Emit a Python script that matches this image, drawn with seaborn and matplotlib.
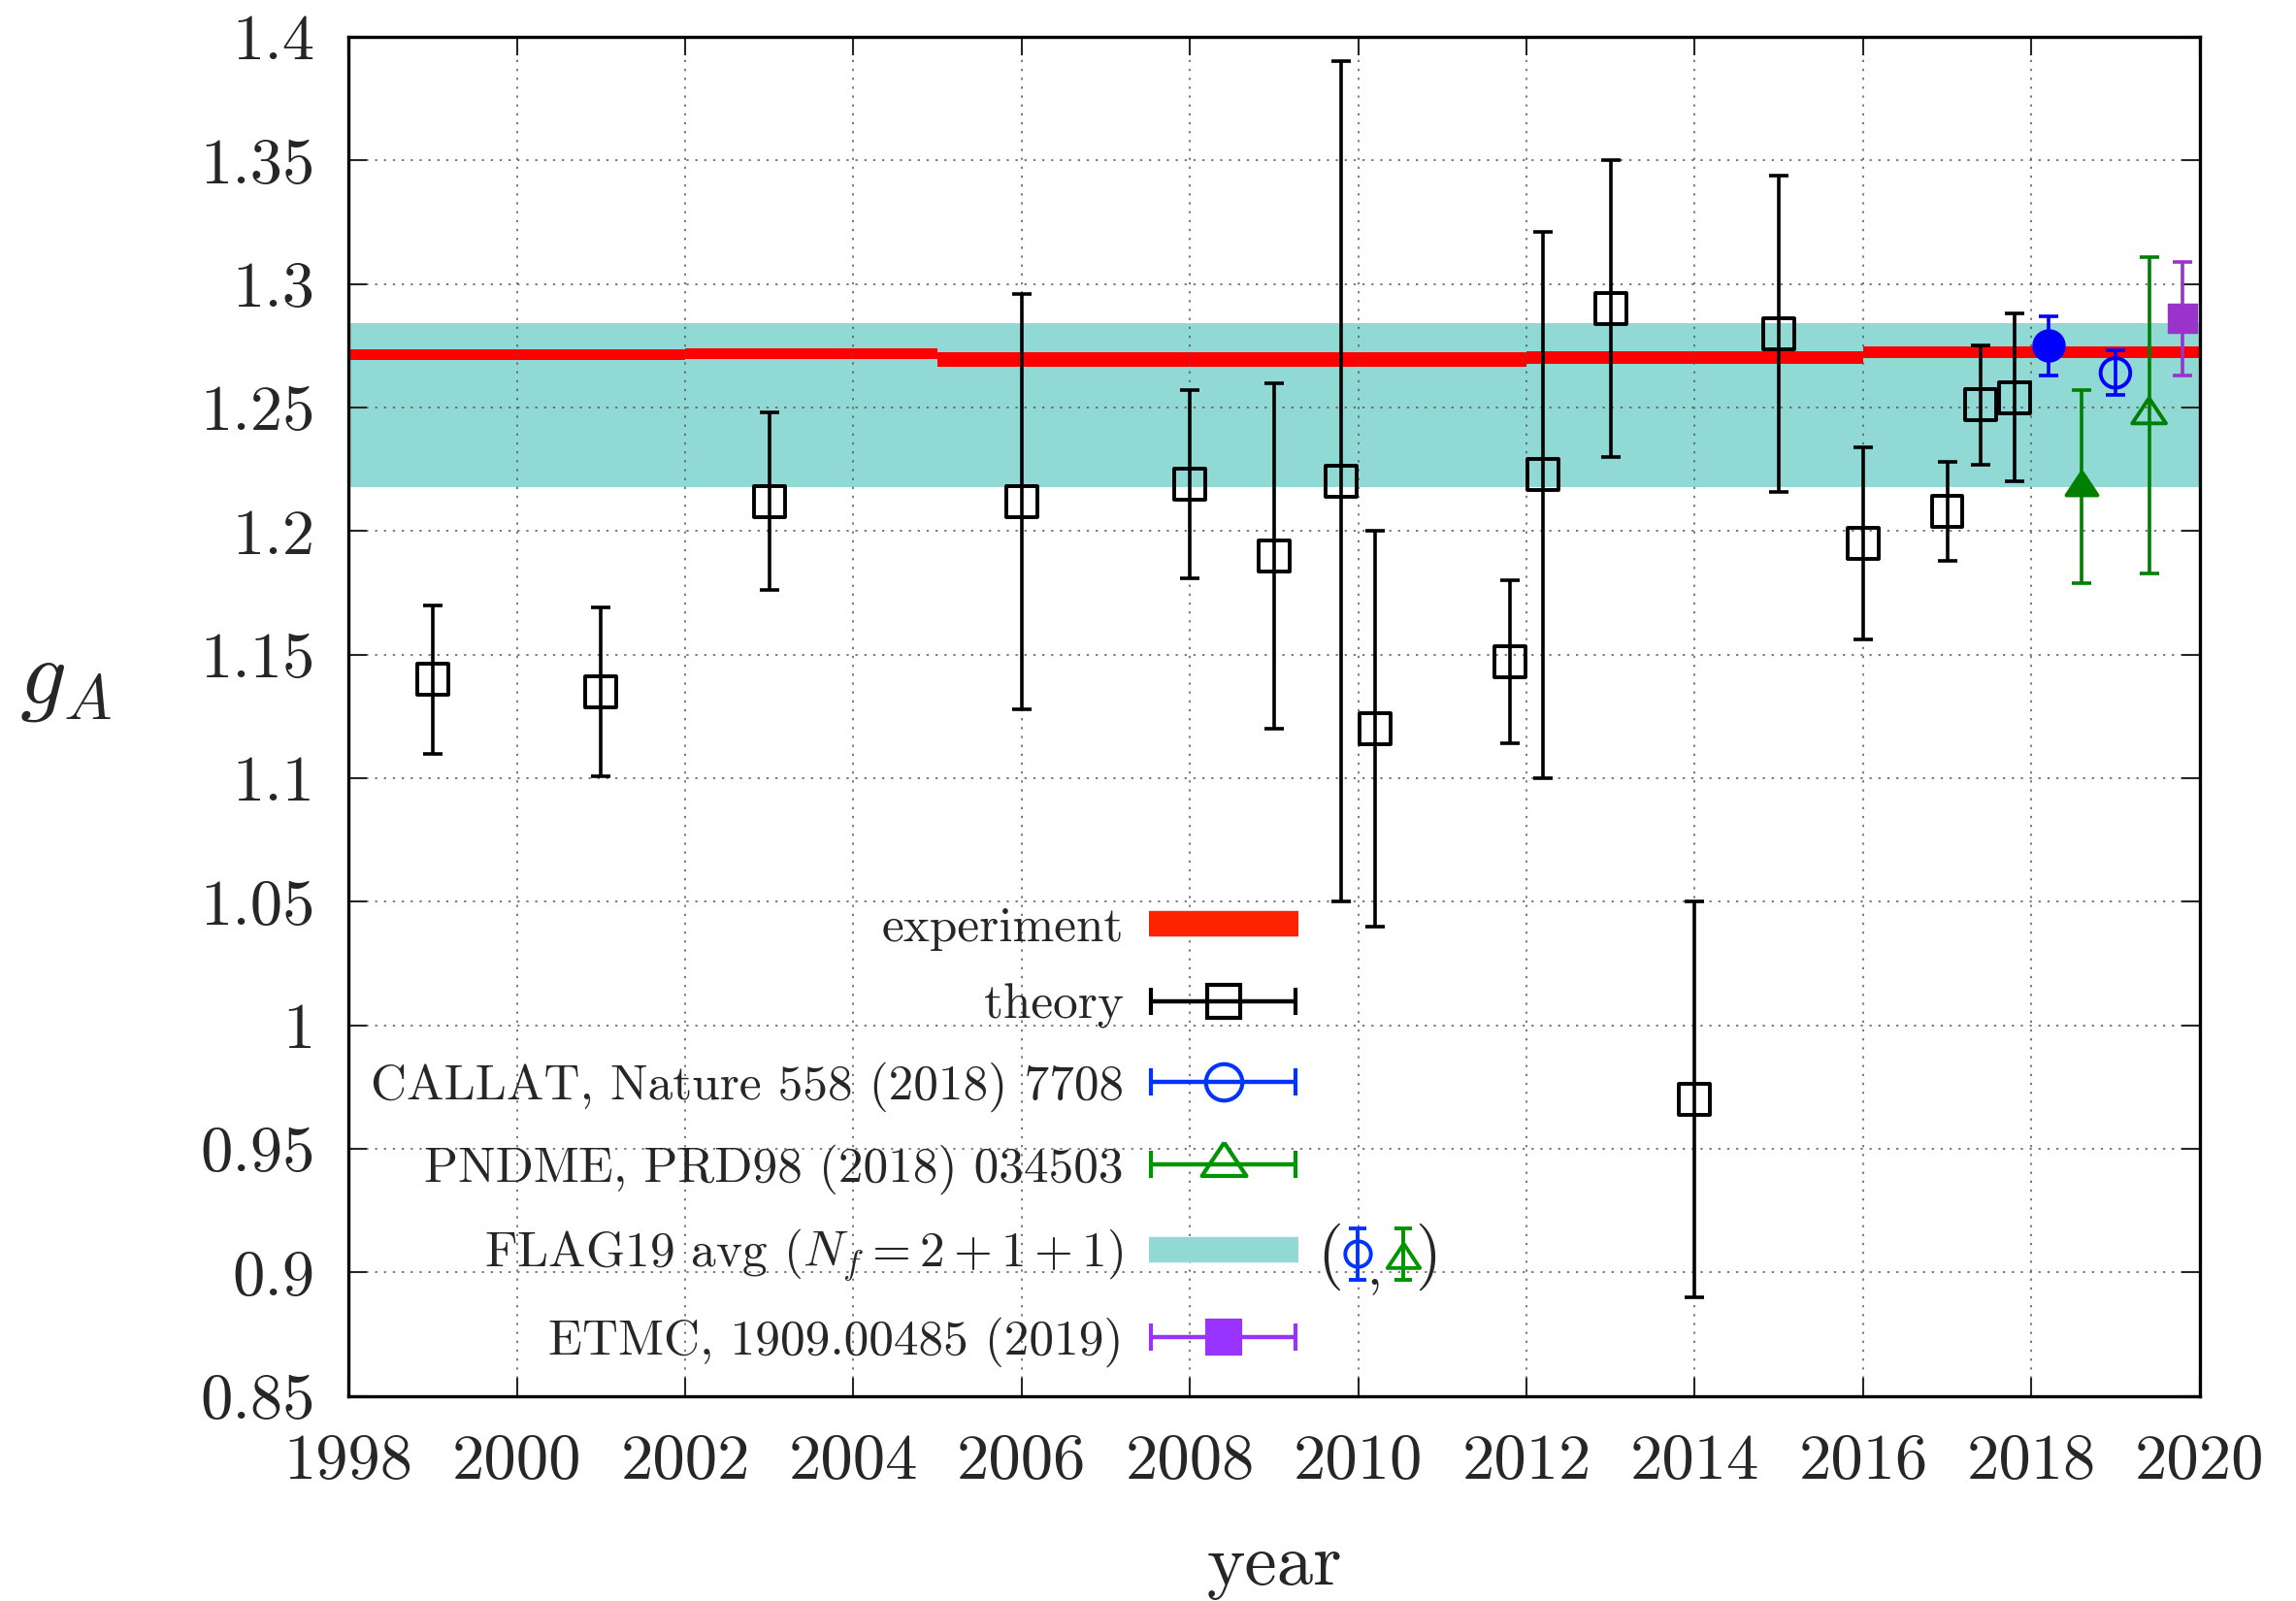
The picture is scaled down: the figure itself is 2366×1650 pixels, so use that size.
import numpy as np
import pandas as pd
import matplotlib
matplotlib.use("Agg")
import matplotlib.pyplot as plt
import seaborn as sns
from matplotlib.lines import Line2D
from matplotlib.container import ErrorbarContainer
from matplotlib.legend_handler import HandlerErrorbar

# ---------------- data ----------------
theory_year = [1999.0, 2001.0, 2003.0, 2006.0, 2008.0, 2009.0, 2009.8, 2010.2,
               2011.8, 2012.2, 2013.0, 2014.0, 2015.0, 2016.0, 2017.0, 2017.4, 2017.8]
theory_val = [1.140, 1.135, 1.212, 1.212, 1.219, 1.190, 1.220, 1.120,
              1.147, 1.223, 1.290, 0.970, 1.280, 1.195, 1.208, 1.251, 1.254]
theory_err_lo = [0.030, 0.034, 0.036, 0.084, 0.038, 0.070, 0.170, 0.080,
                 0.033, 0.123, 0.060, 0.080, 0.064, 0.039, 0.020, 0.024, 0.034]
theory_err_hi = [0.030, 0.034, 0.036, 0.084, 0.038, 0.070, 0.170, 0.080,
                 0.033, 0.098, 0.060, 0.080, 0.064, 0.039, 0.020, 0.024, 0.034]

callat_year = [2018.2, 2019.0]
callat_val = [1.275, 1.264]
callat_err = [0.012, 0.009]
callat_filled = [True, False]

pndme_year = [2018.6, 2019.4]
pndme_val = [1.218, 1.247]
pndme_err = [0.039, 0.064]
pndme_filled = [True, False]

etmc_year = [2019.8]
etmc_val = [1.286]
etmc_err = [0.023]

exp_start = [1998, 2002, 2005, 2012, 2016]
exp_end = [2002, 2005, 2012, 2016, 2020]
exp_val = [1.2714, 1.2719, 1.2693, 1.2702, 1.2723]
exp_err = [0.0022, 0.0021, 0.0030, 0.0025, 0.0023]

flag_val = 1.251
flag_err = 0.033

x_ticks = [1998, 2000, 2002, 2004, 2006, 2008, 2010, 2012, 2014, 2016, 2018, 2020]
y_ticks = [0.85, 0.9, 0.95, 1.0, 1.05, 1.1, 1.15, 1.2, 1.25, 1.3, 1.35, 1.4]
y_tick_labels = ["0.85", "0.9", "0.95", "1", "1.05", "1.1", "1.15", "1.2",
                 "1.25", "1.3", "1.35", "1.4"]

legend_labels = ["experiment", "theory", "CALLAT, Nature 558 (2018) 7708",
                 "PNDME, PRD98 (2018) 034503", r"FLAG19 avg ($N_f=2+1+1$)",
                 "ETMC, 1909.00485 (2019)"]

# ---------------- style ----------------
sns.set_theme(style="ticks")
plt.rcParams.update({
    "font.family": ["cmr10", "DejaVu Serif"],
    "mathtext.fontset": "cm",
    "axes.formatter.use_mathtext": True,
    "axes.unicode_minus": False,
})

RED = "#ff0000"
RED_LEG = "#ff2200"
TEAL = "#91d9d4"
BLUE = "#0000ff"
BLUE_LEG = "#0033ff"
GREEN = "#008000"
GREEN_LEG = "#009400"
PURPLE = "#9933cc"
PURPLE_LEG = "#9933ff"

# triangle marker with centroid at origin (wider than tall)
TRI = [(0.0, 1.0), (-1.0, -0.5), (1.0, -0.5), (0.0, 1.0)]

fig = plt.figure(figsize=(23.66, 16.50), dpi=100)
ax = fig.add_axes([0.1518, 0.128, 0.8062, 0.849])

ELW = 2.6
CAP = 7
MS_SQ = 23

# FLAG band
ax.axhspan(flag_val - flag_err, flag_val + flag_err, color=TEAL, lw=0, zorder=0.3)

# experiment steps
for x0, x1, v, e in zip(exp_start, exp_end, exp_val, exp_err):
    ax.fill_between([x0, x1], [v - e, v - e], [v + e, v + e], color=RED, lw=0, zorder=1.0)

# theory
ax.errorbar(theory_year, theory_val, yerr=[theory_err_lo, theory_err_hi], fmt="none",
            ecolor="black", elinewidth=ELW, capsize=CAP, capthick=ELW, zorder=3)
df_th = pd.DataFrame({"year": theory_year, "gA": theory_val})
sns.scatterplot(data=df_th, x="year", y="gA", marker="s", s=MS_SQ ** 2,
                facecolors="none", edgecolor="black", linewidth=2.8, ax=ax,
                legend=False, zorder=4)

# CALLAT
ax.errorbar(callat_year, callat_val, yerr=callat_err, fmt="none", ecolor=BLUE,
            elinewidth=ELW, capsize=CAP, capthick=ELW, zorder=3)
for yr, v, f in zip(callat_year, callat_val, callat_filled):
    sns.scatterplot(x=[yr], y=[v], marker="o", s=22 ** 2,
                    facecolors=BLUE if f else "none", edgecolor=BLUE,
                    linewidth=2.8, ax=ax, legend=False, zorder=4)

# PNDME
ax.errorbar(pndme_year, pndme_val, yerr=pndme_err, fmt="none", ecolor=GREEN,
            elinewidth=ELW, capsize=CAP, capthick=ELW, zorder=3)
for yr, v, f in zip(pndme_year, pndme_val, pndme_filled):
    sns.scatterplot(x=[yr], y=[v], marker=TRI, s=23 ** 2 if f else 25 ** 2,
                    facecolors=GREEN if f else "none", edgecolor=GREEN,
                    linewidth=2.8, ax=ax, legend=False, zorder=4)

# ETMC
ax.errorbar(etmc_year, etmc_val, yerr=etmc_err, fmt="none", ecolor=PURPLE,
            elinewidth=ELW, capsize=CAP, capthick=ELW, zorder=3)
sns.scatterplot(x=etmc_year, y=etmc_val, marker="s", s=22 ** 2,
                facecolors=PURPLE, edgecolor=PURPLE, linewidth=1,
                ax=ax, legend=False, zorder=4)

# ---------------- axes ----------------
ax.set_xlim(1998, 2020)
ax.set_ylim(0.85, 1.4)
ax.set_xticks(x_ticks)
ax.set_xticklabels([str(t) for t in x_ticks])
ax.set_yticks(y_ticks)
ax.set_yticklabels(y_tick_labels)
ax.tick_params(axis="both", direction="in", length=14, width=1.5, labelsize=48,
               top=True, right=True)
ax.tick_params(axis="x", pad=28)
ax.tick_params(axis="y", pad=25)
for sp in ax.spines.values():
    sp.set_linewidth(2.4)
    sp.set_color("black")
ax.set_axisbelow("line")
ax.grid(True, color="#555555", lw=1.1, linestyle=(0, (1.5, 4.5)))

ax.set_xlabel("year", fontsize=54)
ax.xaxis.set_label_coords(0.5, -0.126)
ax.xaxis.label.set_va("center")
ax.set_ylabel(r"$g_A$", fontsize=68, rotation=0)
ax.yaxis.set_label_coords(-0.153, 0.524)
ax.yaxis.label.set_va("center")
ax.yaxis.label.set_ha("center")

# ---------------- legend ----------------
LEG_LW = 3.2


def eb_handle(color, marker, mfc, ms):
    return ax.errorbar([np.nan], [np.nan], xerr=[1.0], fmt="none" if marker is None else "",
                       marker=marker, ms=ms, linestyle="none",
                       mfc=mfc, mec=color, mew=3.0, ecolor=color,
                       elinewidth=LEG_LW, capsize=CAP + 3, capthick=LEG_LW)


h_exp = Line2D([], [], color=RED_LEG, lw=19, solid_capstyle="butt")
h_th = eb_handle("black", "s", "none", 25)
h_cal = eb_handle(BLUE_LEG, "o", "none", 27)
h_pnd = eb_handle(GREEN_LEG, TRI, "none", 33)
h_flag = Line2D([], [], color=TEAL, lw=19, solid_capstyle="butt")
h_etmc = eb_handle(PURPLE_LEG, "s", PURPLE_LEG, 25)

leg = ax.legend([h_exp, h_th, h_cal, h_pnd, h_flag, h_etmc], legend_labels,
                loc="lower right", bbox_to_anchor=(0.5265, 0.003), frameon=False,
                markerfirst=False, fontsize=37, handlelength=3.0,
                handletextpad=0.5, labelspacing=0.66, borderpad=0,
                handler_map={ErrorbarContainer: HandlerErrorbar(xerr_size=1.45)})

# "(Phi, Delta)" note next to FLAG entry
tr = ax.transAxes
yc = 0.1045
dy = 0.019
ax.text(0.5305, yc - 0.002, "(", transform=tr, fontsize=50, ha="center", va="center")
ax.text(0.5540, yc - 0.012, ",", transform=tr, fontsize=40, ha="center", va="center")
ax.text(0.5830, yc - 0.002, ")", transform=tr, fontsize=50, ha="center", va="center")
for xc, col, mk, ms in [(0.5450, BLUE_LEG, "o", 19), (0.5696, GREEN_LEG, TRI, 24)]:
    ax.add_line(Line2D([xc, xc], [yc - dy, yc + dy], transform=tr, color=col, lw=2.8,
                       clip_on=False))
    ax.add_line(Line2D([xc, xc], [yc - dy, yc + dy], transform=tr, color=col, lw=0,
                       marker="_", ms=13, mew=2.8, linestyle="none", clip_on=False))
    ax.add_line(Line2D([xc], [yc - (0.004 if mk is TRI else 0.0)], transform=tr, color=col,
                       marker=mk, ms=ms, mfc="none", mec=col, mew=2.8,
                       linestyle="none", clip_on=False))

fig.savefig("out.png", dpi=100)
